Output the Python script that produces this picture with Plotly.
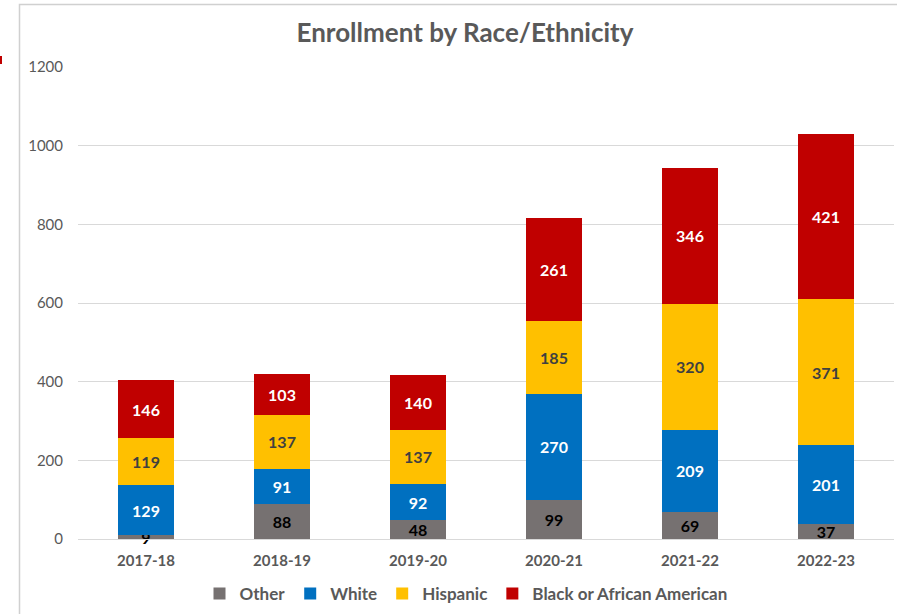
import plotly.graph_objects as go

years = ["2017-18", "2018-19", "2019-20", "2020-21", "2021-22", "2022-23"]
other = [9, 88, 48, 99, 69, 37]
white = [129, 91, 92, 270, 209, 201]
hispanic = [119, 137, 137, 185, 320, 371]
black = [146, 103, 140, 261, 346, 421]
y_ticks = [0, 200, 400, 600, 800, 1000, 1200]

FONT = "Lato, Carlito, Calibri, sans-serif"

series = [
    ("Other", other, "#767171", "#000000"),
    ("White", white, "#0070C0", "#FFFFFF"),
    ("Hispanic", hispanic, "#FFC000", "#404040"),
    ("Black or African American", black, "#C00000", "#FFFFFF"),
]

fig = go.Figure()
for name, vals, color, tcolor in series:
    fig.add_trace(go.Bar(
        x=years, y=vals, name=name,
        marker=dict(color=color, line=dict(width=0)),
        text=[str(v) for v in vals],
        textposition="inside",
        insidetextanchor="middle",
        textangle=0,
        textfont=dict(family=FONT, size=16, color=tcolor, weight="bold"),
        cliponaxis=False,
    ))

W, H = 897, 614
L, R, T, B = 78, 3, 67, 75
pw, ph = W - L - R, H - T - B

def px_x(p):
    return (p - L) / pw

def px_y(p):
    return 1 - (p - T) / ph

fig.update_layout(
    width=W, height=H,
    margin=dict(l=L, r=R, t=T, b=B, autoexpand=False),
    barmode="stack",
    bargap=0.595,
    paper_bgcolor="white",
    plot_bgcolor="white",
    title=dict(
        text="<b>Enrollment by Race/Ethnicity</b>",
        font=dict(family=FONT, size=26, color="#595959"),
        x=px_x(465), xref="paper", xanchor="center",
        y=1 - 33 / H, yanchor="middle",
    ),
    uniformtext=dict(minsize=16, mode="show"),
    legend=dict(
        orientation="h",
        x=px_x(466), xanchor="center",
        y=px_y(594), yanchor="middle",
        font=dict(family=FONT, size=17, color="#595959", weight="bold"),
        traceorder="normal",
        itemwidth=30,
        bgcolor="rgba(0,0,0,0)",
    ),
    xaxis=dict(
        showgrid=False,
        showline=True, linecolor="#D9D9D9", linewidth=1,
        ticks="", tickfont=dict(family=FONT, size=15, color="#595959", weight="bold"),
        ticklabelstandoff=8,
    ),
    yaxis=dict(
        range=[0, 1200],
        tickvals=y_ticks,
        ticktext=[str(v) for v in y_ticks],
        showgrid=True, gridcolor="#D9D9D9", gridwidth=1,
        zeroline=False, showline=False, ticks="",
        tickfont=dict(family=FONT, size=15, color="#595959"),
        ticklabelstandoff=14,
    ),
    shapes=[
        dict(type="rect", xref="paper", yref="paper",
             x0=px_x(19.5), x1=px_x(920), y0=px_y(660), y1=px_y(4.5),
             line=dict(color="#D0D0D0", width=1.5), fillcolor="rgba(0,0,0,0)", layer="above"),
        dict(type="line", xref="paper", yref="paper",
             x0=px_x(1), x1=px_x(1), y0=px_y(56), y1=px_y(64),
             line=dict(color="#C00000", width=2)),
    ],
)

fig.write_html(
    "out.html",
    config={"displayModeBar": False},
    post_script="document.body.style.margin='0';document.body.style.overflow='hidden';",
)
